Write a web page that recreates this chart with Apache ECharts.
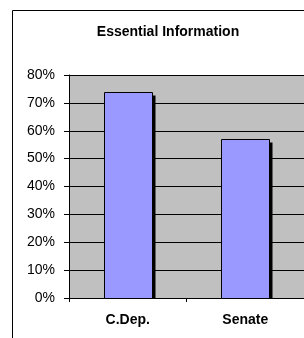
<!DOCTYPE html>
<html>
<head>
<meta charset="utf-8">
<script src="https://cdn.jsdelivr.net/npm/echarts@6/dist/echarts.min.js"></script>
<style>
  html, body { margin: 0; padding: 0; background: #fff; }
  #chart { width: 304px; height: 338px; }
</style>
</head>
<body>
<div id="chart"></div>
<script>
const titleText = 'Essential Information'
const categories = ['C.Dep.', 'Senate']
const shares = [74, 57]
const yTicks = [0, 10, 20, 30, 40, 50, 60, 70, 80]

const chart = echarts.init(document.getElementById('chart'))

// bar with a hard black drop shadow, like the old Excel charts
const renderBar = (params, api) => {
  const top = api.coord([api.value(0), api.value(1)])
  const base = api.coord([api.value(0), 0])
  const w = 48
  const x = Math.round(top[0] - w / 2) + 0.5
  const y = Math.round(top[1]) + 0.5
  const h = Math.round(base[1]) - Math.round(top[1])
  return {
    type: 'group',
    children: [
      {
        type: 'rect',
        shape: { x: x + 3, y: y + 3, width: w, height: h - 3 },
        style: { fill: '#000' }
      },
      {
        type: 'rect',
        shape: { x: x, y: y, width: w, height: h },
        style: { fill: '#9999ff', stroke: '#000', lineWidth: 1 }
      }
    ]
  }
}

chart.setOption({
  animation: false,
  backgroundColor: '#fff',
  title: {
    text: titleText,
    left: 163,
    top: 20,
    textAlign: 'center',
    textStyle: { fontFamily: 'Liberation Sans', fontSize: 14, fontWeight: 'bold', color: '#000' }
  },
  graphic: [
    {
      type: 'rect',
      shape: { x: 12.5, y: 10.5, width: 400, height: 400 },
      style: { fill: null, stroke: '#000', lineWidth: 1 },
      silent: true
    }
  ],
  grid: {
    left: 69, top: 75, right: -3, bottom: 40,
    show: true, backgroundColor: '#c0c0c0', borderWidth: 0
  },
  xAxis: {
    type: 'category',
    data: categories,
    axisLine: { lineStyle: { color: '#000', width: 1 } },
    axisTick: { show: true, length: 4, lineStyle: { color: '#000' } },
    axisLabel: {
      margin: 15, color: '#000',
      fontFamily: 'Liberation Sans', fontSize: 14, fontWeight: 'bold'
    }
  },
  yAxis: {
    type: 'value',
    min: yTicks[0],
    max: yTicks[yTicks.length - 1],
    interval: 10,
    axisLine: { show: true, lineStyle: { color: '#000', width: 1 } },
    axisTick: { show: true, length: 5, lineStyle: { color: '#000' } },
    splitLine: { show: true, lineStyle: { color: '#000', width: 1 } },
    axisLabel: {
      margin: 14, color: '#000',
      fontFamily: 'Liberation Sans', fontSize: 14,
      formatter: v => v + '%'
    }
  },
  series: [
    {
      type: 'custom',
      renderItem: renderBar,
      encode: { x: 0, y: 1 },
      data: shares.map((v, i) => [i, v]),
      z: 3
    }
  ]
})
</script>
</body>
</html>
